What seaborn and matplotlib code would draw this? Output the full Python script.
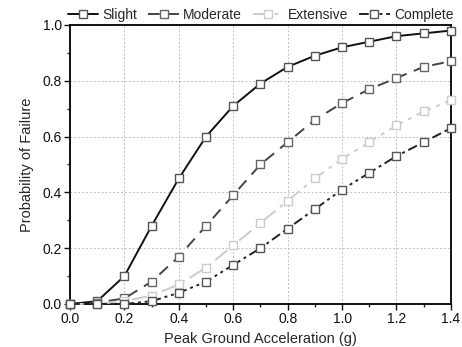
import matplotlib
matplotlib.use("Agg")
import matplotlib.pyplot as plt
from matplotlib.ticker import MultipleLocator
import seaborn as sns

sns.set_style("ticks")
plt.rcParams['font.family'] = ['Liberation Sans', 'DejaVu Sans']

# Datos
pga = [0.0, 0.1, 0.2, 0.3, 0.4, 0.5, 0.6, 0.7, 0.8, 0.9, 1.0, 1.1, 1.2, 1.3, 1.4]
slight = [0.0, 0.01, 0.10, 0.28, 0.45, 0.60, 0.71, 0.79, 0.85, 0.89, 0.92, 0.94, 0.96, 0.97, 0.98]
moderate = [0.0, 0.005, 0.02, 0.08, 0.17, 0.28, 0.39, 0.50, 0.58, 0.66, 0.72, 0.77, 0.81, 0.85, 0.87]
extensive = [0.0, 0.0, 0.01, 0.03, 0.07, 0.13, 0.21, 0.29, 0.37, 0.45, 0.52, 0.58, 0.64, 0.69, 0.73]
complete = [0.0, 0.0, 0.0, 0.01, 0.04, 0.08, 0.14, 0.20, 0.27, 0.34, 0.41, 0.47, 0.53, 0.58, 0.63]

labels = ['Slight', 'Moderate', 'Extensive', 'Complete']
series = [slight, moderate, extensive, complete]
line_colors = ['#111111', '#444444', '#cccccc', '#222222']
edge_colors = ['#555555', '#666666', '#cccccc', '#555555']
dashes = [(None, None), (0, (6, 4)), (0, (8, 3, 2, 3)), (0, (5, 2, 1.5, 2, 1.5, 2))]

fig = plt.figure(figsize=(4.62, 3.47), dpi=100)
ax = fig.add_axes([0.1515, 0.124, 0.8245, 0.804])

for lab, vals, lc, ec, ls in zip(labels, series, line_colors, edge_colors, dashes):
    sns.lineplot(x=pga, y=vals, ax=ax, color=lc, linewidth=1.4,
                 linestyle='-' if ls[0] is None else ls,
                 marker='s', markersize=5.5, markerfacecolor='white',
                 markeredgecolor=ec, markeredgewidth=1.0, label=lab,
                 clip_on=False, zorder=3)

ax.set_xlim(0, 1.4)
ax.set_ylim(0, 1.0)
ax.xaxis.set_major_locator(MultipleLocator(0.2))
ax.xaxis.set_minor_locator(MultipleLocator(0.1))
ax.yaxis.set_major_locator(MultipleLocator(0.2))
ax.yaxis.set_minor_locator(MultipleLocator(0.1))
ax.tick_params(axis='both', which='major', direction='out', length=4, width=1,
               labelsize=10, colors='#111111', pad=2)
ax.tick_params(axis='both', which='minor', direction='out', length=2.5, width=1)
ax.grid(True, which='major', linestyle=(0, (2, 2)), color='#c0c0c0', linewidth=0.7)

for s in ax.spines.values():
    s.set_visible(True)
    s.set_color('black')
    s.set_linewidth(1.3)

ax.set_xlabel('Peak Ground Acceleration (g)', fontsize=10.5, labelpad=4)
ax.set_ylabel('Probability of Failure', fontsize=10.5, labelpad=6)

ax.legend(loc='lower center', bbox_to_anchor=(0.5, 1.01), ncol=4, frameon=False,
          fontsize=10, handlelength=2.2, handletextpad=0.3, columnspacing=0.8,
          borderaxespad=0, borderpad=0, numpoints=1)

fig.savefig('out.png', dpi=100)
